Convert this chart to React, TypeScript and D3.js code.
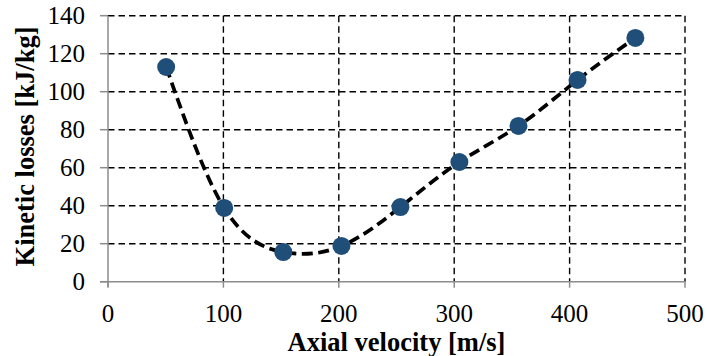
import React from "react";
import * as d3 from "d3";

const axialVelocity = [50.4, 100.7, 151.9, 202.3, 253.4, 304.5, 355.7, 406.9, 457];
const kineticLosses = [113, 38.8, 15.6, 18.8, 39.3, 63, 82, 106.2, 128.3];
const xTicks = [0, 100, 200, 300, 400, 500];
const yTicks = [0, 20, 40, 60, 80, 100, 120, 140];
const xTitle = "Axial velocity [m/s]";
const yTitle = "Kinetic losses [kJ/kg]";

const W = 707;
const H = 356;
const left = 108;
const right = 685;
const top = 15.7;
const bottom = 281.7;
const font = "'Liberation Serif', 'Times New Roman', serif";

export default function App() {
  const x = d3.scaleLinear().domain([0, 500]).range([left, right]);
  const y = d3.scaleLinear().domain([0, 140]).range([bottom, top]);
  const pts: [number, number][] = axialVelocity.map((v, i) => [v, kineticLosses[i]]);
  const line = d3
    .line<[number, number]>()
    .x((d) => x(d[0]))
    .y((d) => y(d[1]))
    .curve(d3.curveNatural);

  return (
    <svg
      width={W}
      height={H}
      style={{ position: "absolute", left: 0, top: 0, background: "#fff" }}
    >
      {/* horizontal grid */}
      {yTicks
        .filter((t) => t > 0)
        .map((t) => (
          <line
            key={"gy" + t}
            x1={left}
            x2={right}
            y1={y(t)}
            y2={y(t)}
            stroke="#000"
            strokeWidth={1.4}
            strokeDasharray="6.5,4"
          />
        ))}
      {/* vertical grid */}
      {xTicks
        .filter((t) => t > 0)
        .map((t) => (
          <line
            key={"gx" + t}
            x1={x(t)}
            x2={x(t)}
            y1={top}
            y2={bottom}
            stroke="#000"
            strokeWidth={1.4}
            strokeDasharray="6.5,4"
          />
        ))}
      {/* axes */}
      <line x1={left} x2={left} y1={top} y2={bottom + 5} stroke="#8c8c8c" strokeWidth={1.5} />
      <line x1={left - 8} x2={right} y1={bottom} y2={bottom} stroke="#8c8c8c" strokeWidth={1.5} />
      {yTicks.map((t) => (
        <line key={"ty" + t} x1={left - 8} x2={left} y1={y(t)} y2={y(t)} stroke="#8c8c8c" strokeWidth={1.5} />
      ))}
      {xTicks.map((t) => (
        <line key={"tx" + t} x1={x(t)} x2={x(t)} y1={bottom} y2={bottom + 6} stroke="#8c8c8c" strokeWidth={1.5} />
      ))}
      {/* tick labels */}
      {yTicks.map((t) => (
        <text
          key={"ly" + t}
          x={85}
          y={y(t)}
          dy="0.34em"
          textAnchor="end"
          fontFamily={font}
          fontSize={25}
          fill="#000"
        >
          {t}
        </text>
      ))}
      {xTicks.map((t) => (
        <text
          key={"lx" + t}
          x={x(t)}
          y={322}
          textAnchor="middle"
          fontFamily={font}
          fontSize={25}
          fill="#000"
        >
          {t}
        </text>
      ))}
      {/* trend line */}
      <path
        d={line(pts) || ""}
        fill="none"
        stroke="#000"
        strokeWidth={3.7}
        strokeDasharray="11,5.5"
      />
      {/* points */}
      {pts.map((p, i) => (
        <circle key={"p" + i} cx={x(p[0])} cy={y(p[1])} r={9} fill="#1f4e79" />
      ))}
      {/* titles */}
      <text
        x={396.5}
        y={351}
        textAnchor="middle"
        fontFamily={font}
        fontSize={26.5}
        fontWeight="bold"
        fill="#000"
      >
        {xTitle}
      </text>
      <text
        transform={`translate(33.5, 146.5) rotate(-90)`}
        textAnchor="middle"
        fontFamily={font}
        fontSize={26.5}
        fontWeight="bold"
        fill="#000"
      >
        {yTitle}
      </text>
    </svg>
  );
}
